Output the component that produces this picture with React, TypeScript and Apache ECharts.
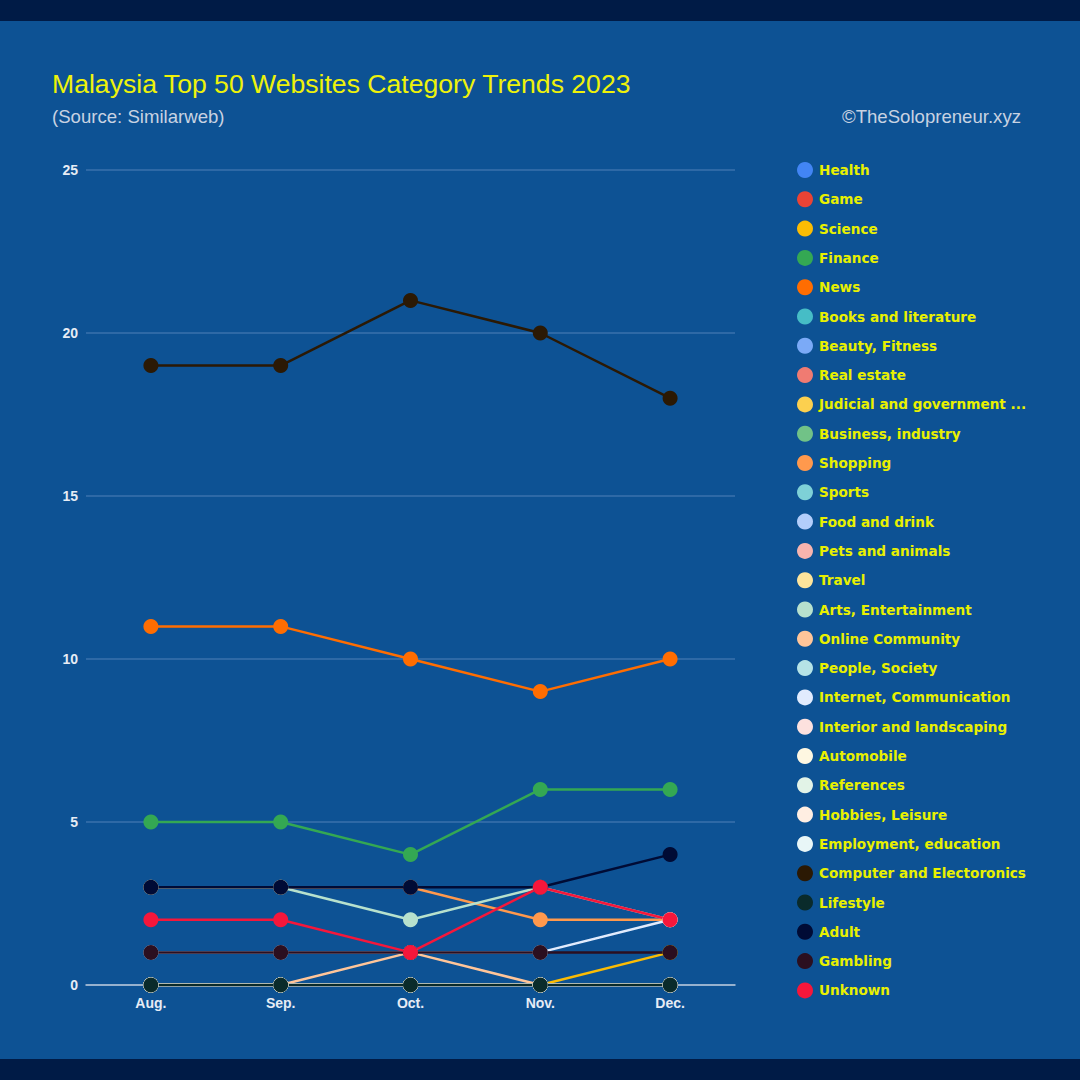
import React, { useEffect, useRef } from "react";
import * as echarts from "echarts";

const categories = ["Aug.", "Sep.", "Oct.", "Nov.", "Dec."];
const yTicks = [0, 5, 10, 15, 20, 25];

const seriesNames = [
  "Health", "Game", "Science", "Finance", "News", "Books and literature",
  "Beauty, Fitness", "Real estate", "Judicial and government agencies",
  "Business, industry", "Shopping", "Sports", "Food and drink",
  "Pets and animals", "Travel", "Arts, Entertainment", "Online Community",
  "People, Society", "Internet, Communication", "Interior and landscaping",
  "Automobile", "References", "Hobbies, Leisure", "Employment, education",
  "Computer and Electoronics", "Lifestyle", "Adult", "Gambling", "Unknown",
];

const seriesColors = [
  "#4285f4", "#ea4335", "#fbbc04", "#34a853", "#ff6d01", "#46bdc6",
  "#7baaf7", "#f07b72", "#fcd04f", "#71c287", "#ff994d", "#7ed1d7",
  "#b3cefb", "#f7b4ae", "#fde49b", "#b7e1cd", "#ffc599", "#b5e3e6",
  "#e1ebfd", "#fde1de", "#fef7e1", "#e2f3e7", "#ffeee2", "#e8f6f7",
  "#2b1904", "#0a2b2b", "#000b35", "#2b0f20", "#f5173b",
];

const zero = [0, 0, 0, 0, 0];
const science = [0, 0, 0, 0, 1];
const finance = [5, 5, 4, 6, 6];
const news = [11, 11, 10, 9, 10];
const shopping = [3, 3, 3, 2, 2];
const arts = [3, 3, 2, 3, 2];
const onlineCommunity = [0, 0, 1, 0, 0];
const internet = [1, 1, 1, 1, 2];
const computer = [19, 19, 21, 20, 18];
const lifestyle = [0, 0, 0, 0, 0];
const adult = [3, 3, 3, 3, 4];
const gambling = [1, 1, 1, 1, 1];
const unknown = [2, 2, 1, 3, 2];

const seriesValues: number[][] = [
  zero, zero, science, finance, news, zero,
  zero, zero, zero, zero, shopping, zero, zero,
  zero, zero, arts, onlineCommunity, zero, internet, zero,
  zero, zero, zero, zero, computer, lifestyle, adult, gambling, unknown,
];

export default function App() {
  const ref = useRef<HTMLDivElement>(null);
  useEffect(() => {
    if (!ref.current) return;
    const chart = echarts.init(ref.current, undefined, { renderer: "svg" });
    const option: any = {
      animation: false,
      backgroundColor: "#0d5294",
      graphic: [
        { type: "rect", left: 0, top: 0, shape: { width: 1080, height: 21 }, style: { fill: "#001b46" } },
        { type: "rect", left: 0, top: 1059, shape: { width: 1080, height: 21 }, style: { fill: "#001b46" } },
        {
          type: "text", left: 52, top: 70,
          style: { text: "Malaysia Top 50 Websites Category Trends 2023", fill: "#eef20a", font: "26.6px 'Liberation Sans', Arial, sans-serif" },
        },
        {
          type: "text", left: 52, top: 107,
          style: { text: "(Source: Similarweb)", fill: "#c8d2e2", font: "18.6px 'Liberation Sans', Arial, sans-serif" },
        },
        {
          type: "text", right: 59, top: 107,
          style: { text: "©TheSolopreneur.xyz", fill: "#c8d2e2", font: "18.6px 'Liberation Sans', Arial, sans-serif" },
        },
      ],
      grid: { left: 86, right: 345, top: 170, bottom: 95 },
      legend: {
        orient: "vertical",
        left: 792,
        top: 157,
        icon: "circle",
        itemWidth: 16,
        itemHeight: 16,
        itemGap: 13.3,
        data: seriesNames,
        textStyle: {
          color: "#e8f000",
          fontFamily: "'DejaVu Sans', Verdana, sans-serif",
          fontWeight: "bold",
          fontSize: 13.6,
          padding: [0, 0, 0, 1],
          width: 212,
          overflow: "truncate",
          ellipsis: "...",
        },
      },
      xAxis: {
        type: "category",
        data: categories,
        boundaryGap: true,
        axisLine: { show: true, lineStyle: { color: "#b9c9dc", width: 1.5 } },
        axisTick: { show: false },
        axisLabel: { color: "#e6ecf5", fontSize: 14, fontWeight: "bold", fontFamily: "'Liberation Sans', Arial, sans-serif", margin: 11 },
      },
      yAxis: {
        type: "value",
        min: yTicks[0],
        max: yTicks[yTicks.length - 1],
        interval: 5,
        axisLine: { show: false },
        axisTick: { show: false },
        splitLine: { lineStyle: { color: "#3a72ad", width: 1.5 } },
        axisLabel: { color: "#e6ecf5", fontSize: 14, fontWeight: "bold", fontFamily: "'Liberation Sans', Arial, sans-serif", margin: 8 },
      },
      series: seriesNames.map((name, i) => ({
        name,
        type: "line",
        data: seriesValues[i],
        color: seriesColors[i],
        symbol: "circle",
        symbolSize: 15,
        lineStyle: { width: 2.5, color: seriesColors[i] },
        itemStyle: { color: seriesColors[i] },
        emphasis: { disabled: true },
      })),
    };
    chart.setOption(option);
    return () => chart.dispose();
  }, []);
  return (
    <div style={{ position: "fixed", left: 0, top: 0, width: 1080, height: 1080 }}>
      <div ref={ref} style={{ width: 1080, height: 1080 }} />
    </div>
  );
}
